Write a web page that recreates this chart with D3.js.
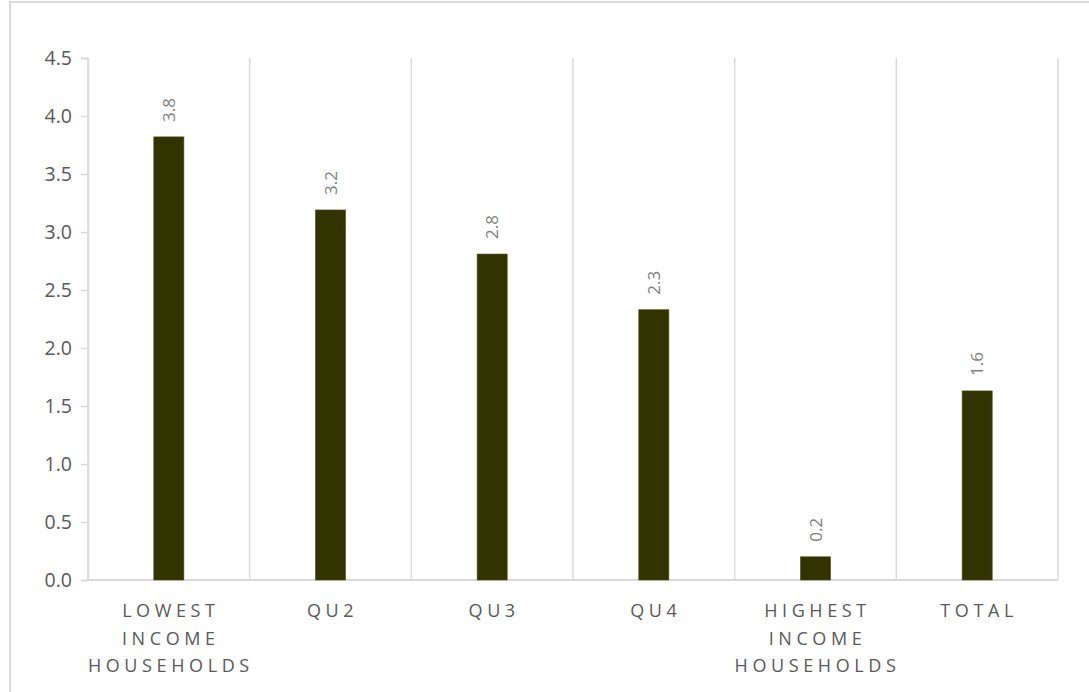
<!DOCTYPE html>
<html>
<head>
<meta charset="utf-8">
<script src="https://cdn.jsdelivr.net/npm/d3@7"></script>
<style>
  body { margin: 0; background: #fff; }
  text { font-family: "Open Sans", sans-serif; }
</style>
</head>
<body>
<div id="chart"></div>
<script>
var categories = [
    ["LOWEST", "INCOME", "HOUSEHOLDS"],
    ["QU2"],
    ["QU3"],
    ["QU4"],
    ["HIGHEST", "INCOME", "HOUSEHOLDS"],
    ["TOTAL"]
];
var values = [3.82, 3.19, 2.81, 2.33, 0.2, 1.63];
var yTicks = [0, 0.5, 1, 1.5, 2, 2.5, 3, 3.5, 4, 4.5];

var W = 1089, H = 692;
var plot = { left: 88, right: 1058, top: 58, bottom: 580 };
var grid = "#d9d9d9";

var svg = d3.select("#chart").append("svg")
    .attr("width", W)
    .attr("height", H);

// chart frame
svg.append("rect")
    .attr("x", 10).attr("y", 2)
    .attr("width", 1100).attr("height", 720)
    .attr("fill", "none")
    .attr("stroke", grid)
    .attr("stroke-width", 2);

var x = d3.scaleBand()
    .domain(d3.range(categories.length))
    .range([plot.left, plot.right])
    .padding(0);

var y = d3.scaleLinear()
    .domain([0, 4.5])
    .range([plot.bottom, plot.top]);

// vertical separators between categories
var seps = d3.range(categories.length + 1).map(function (i) {
    return i < categories.length ? x(i) : plot.right;
});
svg.selectAll("line.sep")
    .data(seps)
    .enter()
    .append("line")
    .attr("class", "sep")
    .attr("x1", function (d) { return d; })
    .attr("x2", function (d) { return d; })
    .attr("y1", plot.top)
    .attr("y2", plot.bottom)
    .attr("stroke", grid)
    .attr("stroke-width", 1.5);

// y axis
var yAxis = svg.append("g")
    .attr("transform", "translate(" + plot.left + ",0)")
    .call(d3.axisLeft(y).tickValues(yTicks).tickSize(7).tickPadding(9)
        .tickFormat(d3.format(".1f")));
yAxis.select(".domain").attr("stroke", grid).attr("stroke-width", 1.5);
yAxis.selectAll(".tick line").attr("stroke", grid).attr("stroke-width", 1.5);
yAxis.selectAll(".tick text")
    .attr("fill", "#595959")
    .style("font-size", "19.5px")
    .style("font-family", "'Open Sans', sans-serif");

// baseline
svg.append("line")
    .attr("x1", plot.left).attr("x2", plot.right)
    .attr("y1", y(0)).attr("y2", y(0))
    .attr("stroke", grid)
    .attr("stroke-width", 2);

var barW = x.bandwidth() * 0.186;

svg.selectAll("rect.bar")
    .data(values)
    .enter()
    .append("rect")
    .attr("class", "bar")
    .attr("x", function (d, i) { return x(i) + x.bandwidth() / 2 - barW / 2; })
    .attr("y", function (d) { return y(d); })
    .attr("width", barW)
    .attr("height", function (d) { return y(0) - y(d); })
    .attr("fill", "#333300")
    .attr("stroke", "#4d4d1a")
    .attr("stroke-width", 0.6);

// value labels, rotated
svg.selectAll("text.val")
    .data(values)
    .enter()
    .append("text")
    .attr("class", "val")
    .attr("transform", function (d, i) {
        var cx = x(i) + x.bandwidth() / 2;
        return "translate(" + (cx + 6) + "," + (y(d) - 15) + ") rotate(-90)";
    })
    .attr("fill", "#7f7f7f")
    .style("font-size", "17px")
    .text(function (d) { return d3.format(".1f")(d); });

// category labels
var cat = svg.selectAll("text.cat")
    .data(categories)
    .enter()
    .append("text")
    .attr("class", "cat")
    .attr("text-anchor", "middle")
    .attr("fill", "#595959")
    .style("font-size", "18px")
    .style("letter-spacing", "4.6px");

cat.selectAll("tspan")
    .data(function (d, i) { return d.map(function (s) { return { s: s, i: i }; }); })
    .enter()
    .append("tspan")
    .attr("x", function (d) { return x(d.i) + x.bandwidth() / 2 + 2; })
    .attr("y", function (d, j) { return 617 + j * 27.5; })
    .text(function (d) { return d.s; });
</script>
</body>
</html>
